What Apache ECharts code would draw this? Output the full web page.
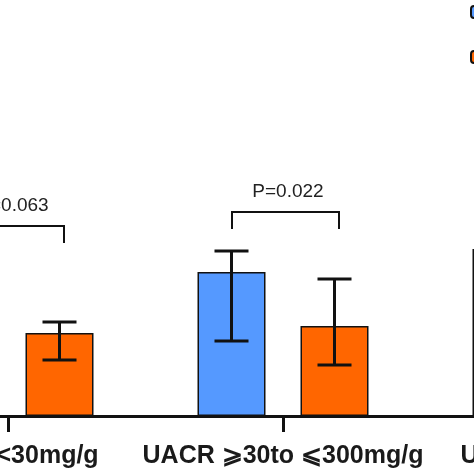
<!DOCTYPE html>
<html>
<head>
<meta charset="utf-8">
<script src="https://cdn.jsdelivr.net/npm/echarts@6/dist/echarts.min.js"></script>
<style>
html,body{margin:0;padding:0;width:474px;height:474px;overflow:hidden;background:#fff;}
#c{position:absolute;left:-400px;top:0;width:1200px;height:474px;}
</style>
</head>
<body>
<div id="c"></div>
<script>
// ---- data ----
const categories = ['UACR <30mg/g', 'UACR \u2A7E30to \u2A7D300mg/g', 'UACR >300mg/g'];
const seriesNames = ['Group A', 'Group B'];
const blueValues = [30, 36, 41.75];
const blueLow = [18, 18.75, 30];
const blueHigh = [40, 41.25, 55];
const orangeValues = [20.75, 22.5, 30];
const orangeLow = [14, 12.75, 20];
const orangeHigh = [23.5, 34.25, 40];
const pLabels = ['P=0.063', 'P=0.022'];
const pBracketY = [47.5, 51];
const pDropY = [43.25, 46.75];

// ---- styles ----
const BLUE = '#5599ff';
const ORANGE = '#ff6600';
const BAR_W = 68;
const BAR_GAP = 35;
const OFFSET = (BAR_W + BAR_GAP) / 2;

const errBlue = categories.map((c, i) => [i, blueLow[i], blueHigh[i]]);
const errOrange = categories.map((c, i) => [i, orangeLow[i], orangeHigh[i]]);
const brackets = pLabels.map((p, i) => [i, pBracketY[i], pDropY[i], p]);

function errRender(sign) {
  return function (params, api) {
    const idx = api.value(0);
    const lo = api.coord([idx, api.value(1)]);
    const hi = api.coord([idx, api.value(2)]);
    const x = lo[0] + sign * OFFSET;
    const hw = 17;
    const st = { stroke: '#111', lineWidth: 3 };
    return {
      type: 'group',
      children: [
        { type: 'line', shape: { x1: x, y1: lo[1], x2: x, y2: hi[1] }, style: st },
        { type: 'line', shape: { x1: x - hw, y1: lo[1], x2: x + hw, y2: lo[1] }, style: st },
        { type: 'line', shape: { x1: x - hw, y1: hi[1], x2: x + hw, y2: hi[1] }, style: st }
      ]
    };
  };
}

const chart = echarts.init(document.getElementById('c'), null, { renderer: 'canvas' });
chart.setOption({
  animation: false,
  backgroundColor: '#fff',
  grid: { left: 270.5, width: 825, top: 16, bottom: 58, containLabel: false },
  legend: {
    data: seriesNames,
    orient: 'vertical',
    left: 870,
    top: 5,
    padding: 0,
    itemWidth: 14,
    itemHeight: 12,
    itemGap: 31,
    textStyle: { fontSize: 12, lineHeight: 12, color: '#222' }
  },
  xAxis: {
    type: 'category',
    data: categories,
    boundaryGap: true,
    axisLine: { show: true, lineStyle: { color: '#111', width: 3 } },
    axisTick: { show: true, alignWithLabel: true, length: 16, lineStyle: { color: '#111', width: 3 } },
    axisLabel: {
      interval: 0,
      margin: 28,
      fontFamily: 'Liberation Sans, Arial, sans-serif',
      fontWeight: 'bold',
      fontSize: 25,
      color: '#1a1a1a'
    }
  },
  yAxis: {
    type: 'value', min: 0, max: 100, show: false,
    splitLine: { show: false }
  },
  series: [
    {
      name: seriesNames[0], type: 'bar', data: blueValues,
      barWidth: BAR_W, barGap: (BAR_GAP / BAR_W * 100) + '%',
      itemStyle: { color: BLUE, borderColor: '#111', borderWidth: 1.5 }
    },
    {
      name: seriesNames[1], type: 'bar', data: orangeValues,
      barWidth: BAR_W,
      itemStyle: { color: ORANGE, borderColor: '#111', borderWidth: 1.5 }
    },
    {
      type: 'custom', data: errBlue, renderItem: errRender(-1), z: 5,
      encode: { x: 0, y: [1, 2] }
    },
    {
      type: 'custom', data: errOrange, renderItem: errRender(1), z: 5,
      encode: { x: 0, y: [1, 2] }
    },
    {
      type: 'custom', data: brackets, z: 5,
      encode: { x: 0, y: [1, 2] },
      renderItem: function (params, api) {
        const idx = api.value(0);
        const top = api.coord([idx, api.value(1)]);
        const drop = api.coord([idx, api.value(2)]);
        const xl = top[0] - 51;
        const xr = top[0] + 56;
        const st = { stroke: '#111', lineWidth: 2 };
        return {
          type: 'group',
          children: [
            { type: 'polyline', shape: { points: [[xl, drop[1]], [xl, top[1]], [xr, top[1]], [xr, drop[1]]] }, style: Object.assign({ fill: null }, st) },
            { type: 'text', style: {
                text: api.value(3), x: top[0] + 5, y: top[1] - 11,
                align: 'center', verticalAlign: 'bottom',
                font: '19px "Liberation Sans", Arial, sans-serif', fill: '#222'
              } }
          ]
        };
      }
    }
  ]
});
</script>
</body>
</html>
